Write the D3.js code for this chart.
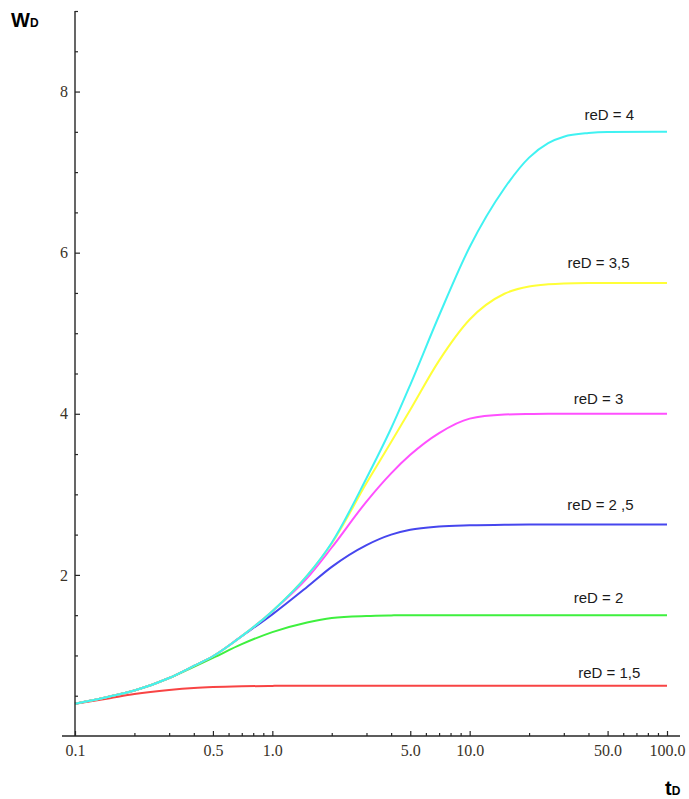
<!DOCTYPE html>
<html>
<head>
<meta charset="utf-8">
<script src="https://cdn.jsdelivr.net/npm/d3@7"></script>
<style>
  html, body { margin: 0; padding: 0; background: #ffffff; }
  svg { display: block; }
</style>
</head>
<body>
<svg id="chart" width="689" height="799"></svg>
<script>
// ---------- DATA ----------
const tD = [0.1, 0.15, 0.2, 0.3, 0.4, 0.5, 0.7, 1, 1.5, 2, 3, 4, 5, 7, 10, 15, 20, 25, 30, 40, 50, 100];

const wd_reD4   = [0.40, 0.49, 0.565, 0.72, 0.87, 0.99, 1.24, 1.55, 1.99, 2.40, 3.20, 3.82, 4.36, 5.22, 6.07, 6.80, 7.18, 7.36, 7.44, 7.485, 7.497, 7.50];
const wd_reD3_5 = [0.40, 0.49, 0.565, 0.72, 0.87, 0.99, 1.24, 1.55, 1.99, 2.39, 3.14, 3.65, 4.05, 4.66, 5.17, 5.49, 5.58, 5.607, 5.618, 5.624, 5.625, 5.625];
const wd_reD3   = [0.40, 0.49, 0.565, 0.72, 0.87, 0.99, 1.24, 1.55, 1.96, 2.34, 2.91, 3.26, 3.49, 3.76, 3.94, 3.99, 3.998, 4.0, 4.0, 4.0, 4.0, 4.0];
const wd_reD2_5 = [0.40, 0.49, 0.565, 0.72, 0.87, 0.99, 1.24, 1.51, 1.85, 2.10, 2.37, 2.50, 2.56, 2.60, 2.615, 2.623, 2.625, 2.625, 2.625, 2.625, 2.625, 2.625];
const wd_reD2   = [0.40, 0.49, 0.565, 0.72, 0.86, 0.97, 1.14, 1.29, 1.41, 1.465, 1.49, 1.497, 1.50, 1.50, 1.50, 1.50, 1.50, 1.50, 1.50, 1.50, 1.50, 1.50];
const wd_reD1_5 = [0.40, 0.47, 0.52, 0.57, 0.595, 0.607, 0.617, 0.622, 0.625, 0.625, 0.625, 0.625, 0.625, 0.625, 0.625, 0.625, 0.625, 0.625, 0.625, 0.625, 0.625, 0.625];

const seriesLabels = ["reD = 1,5", "reD = 2", "reD = 2 ,5", "reD = 3", "reD = 3,5", "reD = 4"];
const seriesValues = [wd_reD1_5, wd_reD2, wd_reD2_5, wd_reD3, wd_reD3_5, wd_reD4];

const xMajorTicks = [0.1, 0.5, 1, 5, 10, 50, 100];
const xMinorTicks = [0.2, 0.3, 0.4, 0.6, 0.7, 0.8, 0.9, 2, 3, 4, 6, 7, 8, 9, 20, 30, 40, 60, 70, 80, 90];
const yMajorTicks = [2, 4, 6, 8];
const yMinorTicks = [0.5, 1, 1.5, 2.5, 3, 3.5, 4.5, 5, 5.5, 6.5, 7, 7.5, 8.5, 9];

// ---------- STYLE / LAYOUT ----------
const colors = ["#f84444", "#3ef03e", "#4646ee", "#ff50ff", "#ffff38", "#40f2f2"];
// label placement: x in data units (tD), vertical pixel offset above plateau
const labelLayout = [
  { t: 51, dy: -8 },
  { t: 45, dy: -12 },
  { t: 46, dy: -15 },
  { t: 45, dy: -10 },
  { t: 45, dy: -15 },
  { t: 51, dy: -12 }
];

const svg = d3.select("#chart");
const x = d3.scaleLog().domain([0.1, 100]).range([75, 667]);
const y = d3.scaleLinear().domain([0, 9]).range([736, 11]);
const overhang = 13;
const axisColor = "#262626";
const serif = "'Liberation Serif', 'Times New Roman', serif";
const sans = "'Liberation Sans', Arial, sans-serif";

// ---------- CURVES ----------
const line = d3.line()
  .x(d => x(d[0]))
  .y(d => y(d[1]))
  .curve(d3.curveMonotoneX);

seriesValues.forEach((vals, i) => {
  svg.append("path")
    .datum(tD.map((t, k) => [t, vals[k]]))
    .attr("fill", "none")
    .attr("stroke", colors[i])
    .attr("stroke-width", 2)
    .attr("stroke-linejoin", "round")
    .attr("d", line);
});

// ---------- AXES ----------
const y0 = y(0);
const x0 = x(0.1);

svg.append("line")
  .attr("x1", x.range()[0] - overhang).attr("x2", x.range()[1] + overhang)
  .attr("y1", y0).attr("y2", y0)
  .attr("stroke", axisColor).attr("stroke-width", 1.4);
svg.append("line")
  .attr("x1", x0).attr("x2", x0)
  .attr("y1", y(0)).attr("y2", y(9))
  .attr("stroke", axisColor).attr("stroke-width", 1.4);

function styleTicks(g) {
  g.select(".domain").remove();
  g.selectAll(".tick line").attr("stroke", axisColor).attr("stroke-width", 1.2);
}

svg.append("g").attr("transform", `translate(0,${y0})`)
  .call(d3.axisTop(x).tickValues(xMajorTicks).tickSize(5).tickFormat(""))
  .call(styleTicks);
svg.append("g").attr("transform", `translate(0,${y0})`)
  .call(d3.axisTop(x).tickValues(xMinorTicks).tickSize(3).tickFormat(""))
  .call(styleTicks);
const xl = svg.append("g").attr("transform", `translate(0,${y0})`)
  .call(d3.axisBottom(x).tickValues(xMajorTicks).tickSize(0).tickPadding(9).tickFormat(d3.format(".1f")));
xl.select(".domain").remove();
xl.selectAll("text").attr("font-family", serif).attr("font-size", 16).attr("fill", "#3a3328");

svg.append("g").attr("transform", `translate(${x0},0)`)
  .call(d3.axisRight(y).tickValues(yMajorTicks).tickSize(5).tickFormat(""))
  .call(styleTicks);
svg.append("g").attr("transform", `translate(${x0},0)`)
  .call(d3.axisRight(y).tickValues(yMinorTicks).tickSize(3).tickFormat(""))
  .call(styleTicks);
const yl = svg.append("g").attr("transform", `translate(${x0},0)`)
  .call(d3.axisLeft(y).tickValues(yMajorTicks).tickSize(0).tickPadding(7).tickFormat(d3.format("d")));
yl.select(".domain").remove();
yl.selectAll("text").attr("font-family", serif).attr("font-size", 16).attr("fill", "#3a3328");

// ---------- AXIS TITLES ----------
const wTitle = svg.append("text")
  .attr("x", 11).attr("y", 27)
  .attr("font-family", sans).attr("font-weight", "bold").attr("fill", "#000");
wTitle.append("tspan").attr("font-size", 20).text("W");
wTitle.append("tspan").attr("font-size", 12).text("D");

const tTitle = svg.append("text")
  .attr("x", 665).attr("y", 795)
  .attr("font-family", sans).attr("font-weight", "bold").attr("fill", "#000");
tTitle.append("tspan").attr("font-size", 20).text("t");
tTitle.append("tspan").attr("font-size", 12).text("D");

// ---------- CURVE LABELS ----------
seriesValues.forEach((vals, i) => {
  const lay = labelLayout[i];
  svg.append("text")
    .attr("x", x(lay.t))
    .attr("y", y(vals[vals.length - 1]) + lay.dy)
    .attr("text-anchor", "middle")
    .attr("font-family", sans)
    .attr("font-size", 15)
    .attr("fill", "#1a1a1a")
    .text(seriesLabels[i]);
});
</script>
</body>
</html>
